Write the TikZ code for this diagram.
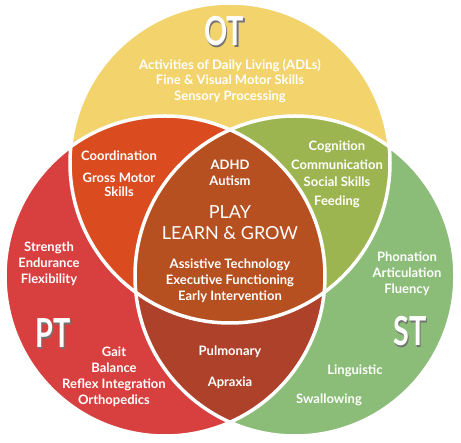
\documentclass[tikz,border=0pt]{standalone}
\usepackage{fontspec}
\setmainfont{Lato}
\usepackage{xcolor}
\usepackage{tikz}
\usetikzlibrary{calc}

\definecolor{otyellow}{HTML}{F3D36B}
\definecolor{ptred}{HTML}{D84040}
\definecolor{stgreen}{HTML}{8BBD78}
\definecolor{otpt}{HTML}{DA4B1F}
\definecolor{otst}{HTML}{9DB550}
\definecolor{ptst}{HTML}{AE412A}
\definecolor{allthree}{HTML}{B65020}

% title with a grey drop shadow behind it
\newcommand{\ttl}[1]{\scalebox{0.72}[1]{\rlap{\hspace{2pt}\raisebox{-2pt}{\color{black!55}#1}}#1}}

\tikzset{
  rim/.style={draw=white,line width=3.5pt},
  lbl/.style={text=white,font=\fontsize{13}{16}\selectfont\bfseries,inner sep=0pt,text height=9.5pt,text depth=2.7pt},
  big/.style={text=white,font=\fontsize{18}{21}\selectfont,inner sep=0pt,text height=13pt,text depth=0pt},
  title/.style={text=white,font=\fontsize{40}{40}\selectfont\bfseries,inner sep=0pt}
}

\begin{document}
\begin{tikzpicture}[x=1pt,y=-1pt]
 \useasboundingbox (0,0) rectangle (461,443);

 % circles
 \fill[otyellow] (230,163) circle (160);
 \fill[ptred] (165,276) circle (160);
 \fill[stgreen] (295,276) circle (160);

 \begin{scope}
  \clip (230,163) circle (160);
  \fill[otpt] (165,276) circle (160);
  \fill[otst] (295,276) circle (160);
 \end{scope}
 \begin{scope}
  \clip (165,276) circle (160);
  \fill[ptst] (295,276) circle (160);
 \end{scope}
 \begin{scope}
  \clip (230,163) circle (160);
  \clip (165,276) circle (160);
  \fill[allthree] (295,276) circle (160);
 \end{scope}

 \draw[rim] (230,163) circle (160);
 \draw[rim] (165,276) circle (160);
 \draw[rim] (295,276) circle (160);

 % titles
 \node at (224,32) [title] (ot) {\ttl{OT}};
 \node at (53,334) [title] (pt) {\ttl{PT}};
 \node at (410,332) [title] (st) {\ttl{ST}};

 % OT only
 \node at (230,66) [lbl] (ot1) {Activities of Daily Living (ADLs)};
 \node at (230,81) [lbl] (ot2) {Fine \& Visual Motor Skills};
 \node at (230,97) [lbl] (ot3) {Sensory Processing};

 % OT and PT
 \node at (119,157) [lbl] (otpt1) {Coordination};
 \node at (119,179) [lbl] (otpt2) {Gross Motor};
 \node at (119,193) [lbl] (otpt3) {Skills};

 % OT and ST
 \node at (337,147) [lbl] (otst1) {Cognition};
 \node at (337,166) [lbl] (otst2) {Communication};
 \node at (337,183) [lbl] (otst3) {Social Skills};
 \node at (337,202) [lbl] (otst4) {Feeding};

 % all three
 \node at (230,166) [lbl] (mid1) {ADHD};
 \node at (230,182) [lbl] (mid2) {Autism};
 \node at (230,212) [big] (play) {PLAY};
 \node at (230,233) [big] (grow) {LEARN \& GROW};
 \node at (230,265) [lbl] (mid3) {Assistive Technology};
 \node at (230,281) [lbl] (mid4) {Executive Functioning};
 \node at (230,297) [lbl] (mid5) {Early Intervention};

 % PT only
 \node at (49,248) [lbl] (pt1) {Strength};
 \node at (49,264) [lbl] (pt2) {Endurance};
 \node at (49,280) [lbl] (pt3) {Flexibility};
 \node at (114,353) [lbl] (pt4) {Gait};
 \node at (114,369) [lbl] (pt5) {Balance};
 \node at (114,385) [lbl] (pt6) {Reflex Integration};
 \node at (114,401) [lbl] (pt7) {Orthopedics};

 % PT and ST
 \node at (230,352) [lbl] (ptst1) {Pulmonary};
 \node at (230,383) [lbl] (ptst2) {Apraxia};

 % ST only
 \node at (407,258) [lbl] (st1) {Phonation};
 \node at (407,274) [lbl] (st2) {Articulation};
 \node at (407,290) [lbl] (st3) {Fluency};
 \node at (355,371) [lbl] (st4) {Linguistic};
 \node at (329,400) [lbl] (st5) {Swallowing};
\end{tikzpicture}
\end{document}
